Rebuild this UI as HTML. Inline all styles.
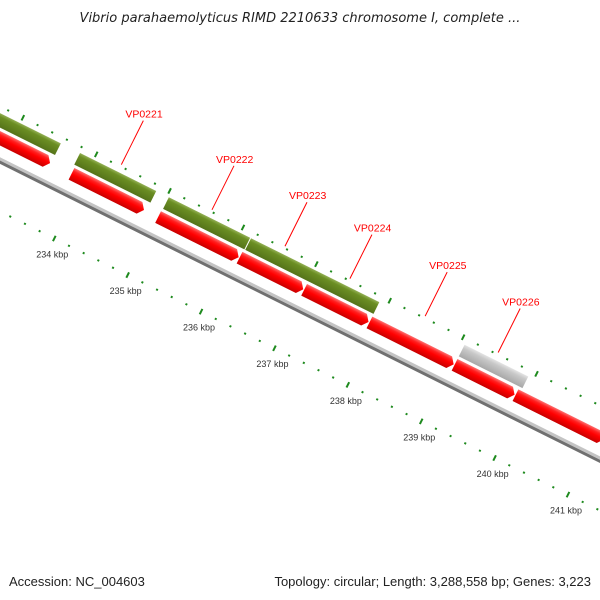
<!DOCTYPE html>
<html><head><meta charset="utf-8"><style>
body{margin:0;background:#fff}
svg{display:block;font-family:"Liberation Sans",sans-serif}
</style></head><body>
<svg id="chart" width="600" height="600" viewBox="0 0 600 600">
<defs>
<linearGradient id="gr" x1="0" y1="0" x2="0" y2="1"><stop offset="0" stop-color="#ff7070"/><stop offset="0.25" stop-color="#ff2020"/><stop offset="0.5" stop-color="#ff0000"/><stop offset="1" stop-color="#c80000"/></linearGradient>
<linearGradient id="gg" x1="0" y1="0" x2="0" y2="1"><stop offset="0" stop-color="#93b055"/><stop offset="0.25" stop-color="#6b8e23"/><stop offset="1" stop-color="#55731a"/></linearGradient>
<linearGradient id="gy" x1="0" y1="0" x2="0" y2="1"><stop offset="0" stop-color="#e4e4e4"/><stop offset="0.3" stop-color="#c8c8c8"/><stop offset="1" stop-color="#a8a8a8"/></linearGradient>
</defs>
<text x="300" y="22" text-anchor="middle" font-size="13" font-style="italic" fill="#222" style="font-family:'DejaVu Sans',sans-serif">Vibrio parahaemolyticus RIMD 2210633 chromosome I, complete ...</text>
<g id="rot" transform="translate(0,160) rotate(26.5)"></g>
<g id="flat"></g>
<text x="9" y="586" font-size="13" fill="#222">Accession: NC_004603</text>
<text x="591" y="586" font-size="13" fill="#222" text-anchor="end">Topology: circular; Length: 3,288,558 bp; Genes: 3,223</text>
</svg>
<script>
const redStarts=[232.5,233.83,235.01,236.12,237.0,237.89,239.05,239.88];
const redEnds=[233.55,234.83,236.12,237.0,237.89,239.05,239.88,241.1];
const greenStarts=[232.5,233.81,235.02,236.14];
const greenEnds=[233.56,234.86,236.14,237.9];
const greyStarts=[239.05];
const greyEnds=[239.93];
const geneLabels=["VP0221","VP0222","VP0223","VP0224","VP0225","VP0226"];
const labelGeneIndex=[1,2,3,4,5,6];
const kbpTicks=[231,232,233,234,235,236,237,238,239,240,241,242,243];

const NS="http://www.w3.org/2000/svg";
const rot=document.getElementById('rot'), flat=document.getElementById('flat');
const A=26.5*Math.PI/180, C=Math.cos(A), S=Math.sin(A);
function U(k){return 83.6+(k-234)*82;}
function toImg(u,v){return [u*C-v*S,160+u*S+v*C];}
function mk(tag,attrs,parent){const e=document.createElementNS(NS,tag);for(const k in attrs)e.setAttribute(k,attrs[k]);parent.appendChild(e);return e;}

let bb=mk('rect',{x:-50,y:-2.5,width:900,height:3,fill:'#c4c4c4'},rot);


let bb2=mk('rect',{x:-50,y:0.5,width:900,height:3,fill:'#707070'},rot);



for(let t=Math.round(230*5);t<=Math.round(244*5);t++){
  const k=t/5, u=U(k), major=(t%5===0);
  [-48,46].forEach(v=>{
    let r;
    if(major) r=mk('rect',{x:u-1,y:v-3,width:2,height:6,fill:'#1e8a1e'},rot);
    else r=mk('rect',{x:u-1,y:v-1,width:2,height:2,fill:'#1e8a1e'},rot);
    
    
  });
}
kbpTicks.forEach(k=>{
  const [x,y]=toImg(U(k),46);
  const t=mk('text',{x:x-2,y:y+19,'text-anchor':'middle','font-size':'9',fill:'#333'},flat);
  t.textContent=k+' kbp';
  
  
});

function rectGene(s,e,v0,v1,fill,name){
  const u1=U(s)+0.5,u2=U(e)-0.5;
  const p=mk('polygon',{points:`${u1},${v0} ${u2},${v0} ${u2},${v1} ${u1},${v1}`,fill:fill},rot);
  
  
}
greenStarts.forEach((s,i)=>rectGene(s,greenEnds[i],-42,-29,'url(#gg)','green-gene'));
greyStarts.forEach((s,i)=>rectGene(s,greyEnds[i],-42,-29,'url(#gy)','grey-gene'));
redStarts.forEach((s,i)=>{
  const u1=U(s)+0.5,u2=U(redEnds[i])-0.5;
  const p=mk('polygon',{points:`${u1},-26 ${u2-5},-26 ${u2},-19.5 ${u2-5},-13 ${u1},-13`,fill:'url(#gr)'},rot);
  
  
});

geneLabels.forEach((lab,i)=>{
  const gi=labelGeneIndex[i];
  const mid=(redStarts[gi]+redEnds[gi])/2;
  const [x,y]=toImg(U(mid),-50);
  const l=mk('line',{x1:x,y1:y,x2:x+22,y2:y-44,stroke:'#ff0000','stroke-width':1},flat);
  
  
  const t=mk('text',{x:x+4,y:y-47,'font-size':'10.5',fill:'#ff0000'},flat);
  t.textContent=lab;
  
  
});
</script>
</body></html>
